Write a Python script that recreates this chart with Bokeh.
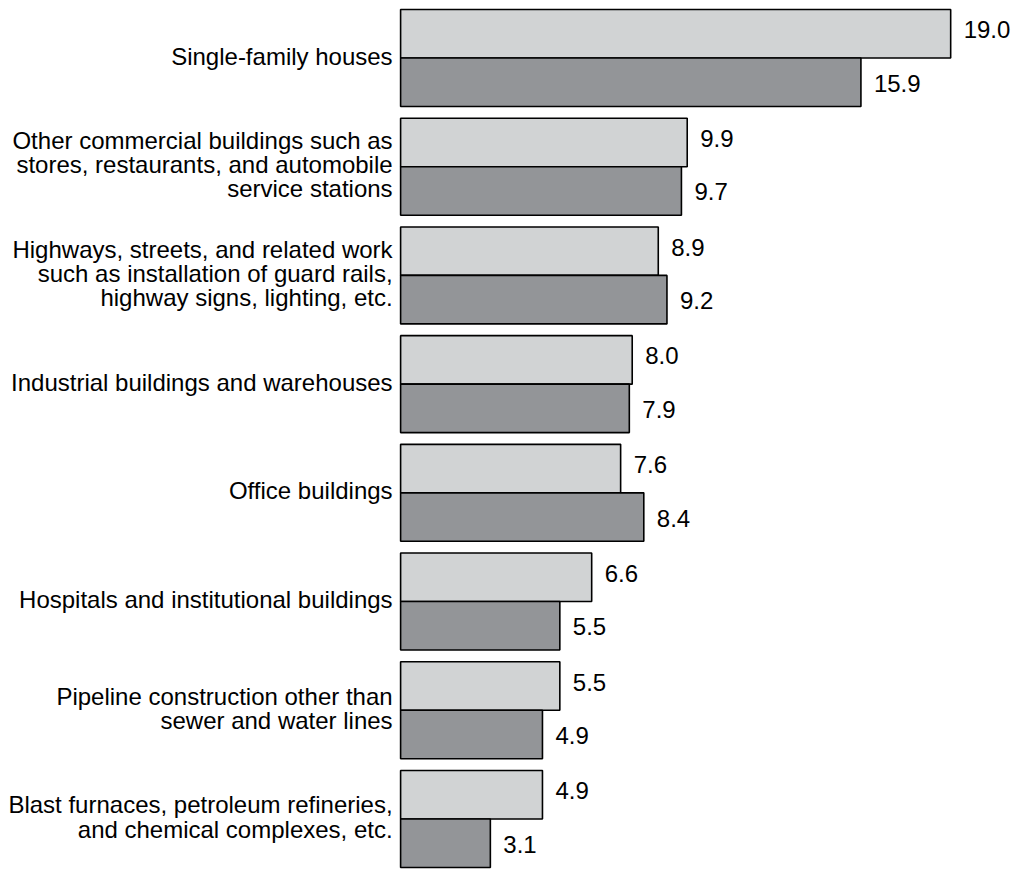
from bokeh.plotting import figure
from bokeh.models import ColumnDataSource, Range1d
from bokeh.core.properties import value
from bokeh.embed import file_html
from bokeh.resources import INLINE

categories = [
    "Single-family houses",
    "Other commercial buildings such as\nstores, restaurants, and automobile\nservice stations",
    "Highways, streets, and related work\nsuch as installation of guard rails,\nhighway signs, lighting, etc.",
    "Industrial buildings and warehouses",
    "Office buildings",
    "Hospitals and institutional buildings",
    "Pipeline construction other than\nsewer and water lines",
    "Blast furnaces, petroleum refineries,\nand chemical complexes, etc.",
]
series_a = [19.0, 9.9, 8.9, 8.0, 7.6, 6.6, 5.5, 4.9]   # light bars
series_b = [15.9, 9.7, 9.2, 7.9, 8.4, 5.5, 4.9, 3.1]   # dark bars

LIGHT = "#d1d3d4"
DARK = "#939598"
FONT = "Liberation Sans"
FS = "24px"
BAR_H = 0.446
OFF = 0.223

idx = list(range(len(categories)))

W, H = 1013, 869
p = figure(width=W, height=H, output_backend="svg", toolbar_location=None,
           x_range=Range1d(-13.82, 21.17), y_range=Range1d(7.465, -0.529),
           min_border=0, outline_line_color=None)
p.axis.visible = False
p.grid.visible = False
p.background_fill_color = "white"
p.border_fill_color = "white"

src_a = ColumnDataSource(dict(y=[i - OFF for i in idx], v=series_a,
                              t=[f"{v:.1f}" for v in series_a]))
src_b = ColumnDataSource(dict(y=[i + OFF for i in idx], v=series_b,
                              t=[f"{v:.1f}" for v in series_b]))
src_c = ColumnDataSource(dict(y=idx, t=categories, x=[0] * len(idx)))

p.hbar(y="y", right="v", left=0, height=BAR_H, source=src_a,
       fill_color=LIGHT, line_color="black", line_width=1.6)
p.hbar(y="y", right="v", left=0, height=BAR_H, source=src_b,
       fill_color=DARK, line_color="black", line_width=1.6)

p.text(x="v", y="y", text="t", source=src_a, x_offset=13, y_offset=-4,
       text_font=value(FONT), text_font_size=FS, text_color="black",
       text_align="left", text_baseline="middle")
p.text(x="v", y="y", text="t", source=src_b, x_offset=13, y_offset=1,
       text_font=value(FONT), text_font_size=FS, text_color="black",
       text_align="left", text_baseline="middle")

p.text(x="x", y="y", text="t", source=src_c, x_offset=-8, y_offset=-2,
       text_font=value(FONT), text_font_size=FS, text_color="black",
       text_align="right", text_baseline="middle", text_line_height=0.895)

open("out.html", "w").write(file_html(p, INLINE))
